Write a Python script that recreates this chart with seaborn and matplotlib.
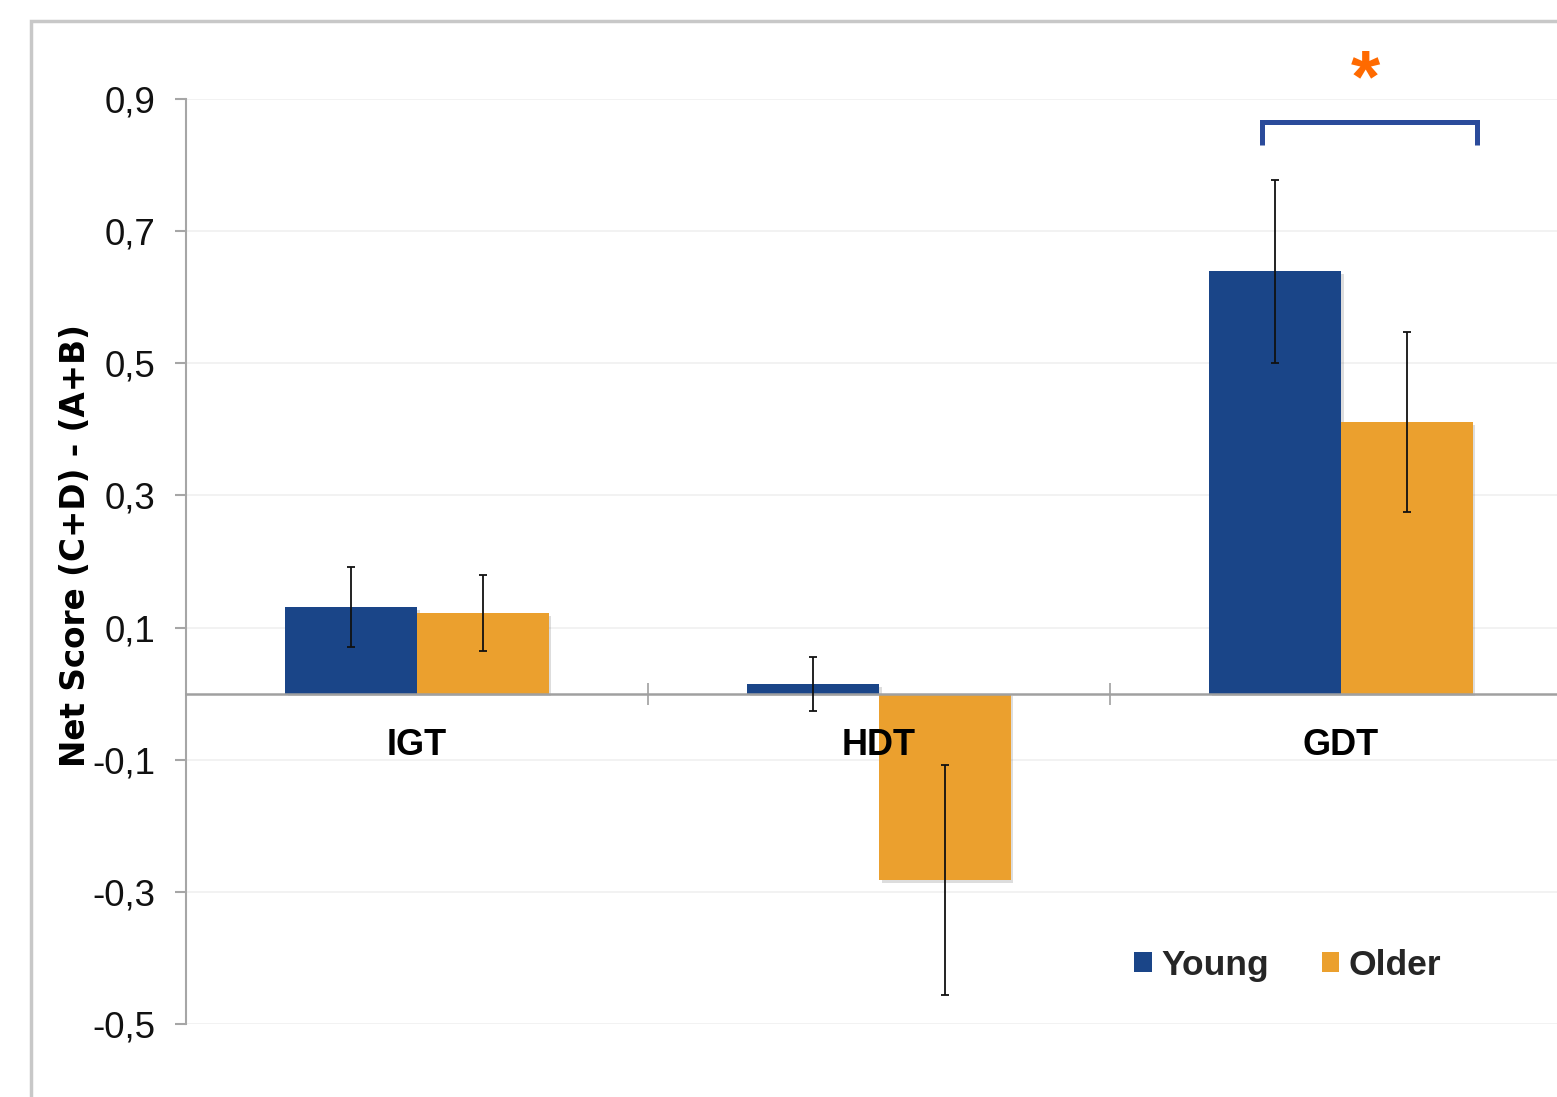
import pandas as pd
import matplotlib
matplotlib.use("Agg")
import matplotlib.pyplot as plt
import matplotlib.patheffects as pe
from matplotlib.patches import Rectangle
import seaborn as sns

# Net score per task and age group, with error bar half-widths
tasks = ["IGT", "HDT", "GDT"]
groups = ["Young", "Older"]
young_mean = [0.131, 0.014, 0.639]
older_mean = [0.122, -0.282, 0.411]
young_err = [0.060, 0.041, 0.138]
older_err = [0.058, 0.174, 0.136]
y_ticks = [-0.5, -0.3, -0.1, 0.1, 0.3, 0.5, 0.7, 0.9]
y_tick_labels = ["-0,5", "-0,3", "-0,1", "0,1", "0,3", "0,5", "0,7", "0,9"]
palette = {"Young": "#1a4588", "Older": "#eba02e"}

df = pd.DataFrame({
    "Task": tasks * 2,
    "Group": ["Young"] * 3 + ["Older"] * 3,
    "Score": young_mean + older_mean,
})

sns.set_theme(style="white")
plt.rcParams["font.family"] = ["Liberation Sans", "DejaVu Sans"]

W, H = 1557, 1097
fig = plt.figure(figsize=(W / 100, H / 100), dpi=100)
ax = fig.add_axes([186 / W, 1 - 1024 / H, 1386 / W, 925 / H])

sns.barplot(data=df, x="Task", y="Score", hue="Group", order=tasks,
            hue_order=groups, palette=palette, width=0.57, errorbar=None,
            saturation=1, linewidth=0, ax=ax, zorder=1)

shadow = [pe.SimplePatchShadow(offset=(2, -2), shadow_rgbFace="#7a7a7a", alpha=0.25),
          pe.Normal()]
for cont, errs in zip(ax.containers, [young_err, older_err]):
    xs = []
    for bar in cont:
        bar.set_path_effects(shadow)
        xs.append(bar.get_x() + bar.get_width() / 2)
    ax.errorbar(xs, cont.datavalues, yerr=errs, fmt="none", ecolor="#111111",
                elinewidth=1.3, capsize=3, capthick=1.3, zorder=3)

ax.set_xlim(-0.5, 2.5)
ax.set_ylim(-0.5, 0.9)

# Faint horizontal guides behind the bars; axis (labels, zero line) on top
ax.grid(False)
ax.set_axisbelow(False)
for yt in y_ticks:
    ax.axhline(yt, color="#f0f0f0", lw=1.2, zorder=0)

for s in ("top", "right"):
    ax.spines[s].set_visible(False)
ax.spines["left"].set_color("#a6a6a6")
ax.spines["left"].set_linewidth(1.5)
ax.spines["bottom"].set_position(("data", 0))
ax.spines["bottom"].set_color("#a0a0a0")
ax.spines["bottom"].set_linewidth(1.8)

ax.set_yticks(y_ticks)
ax.set_yticklabels(y_tick_labels, fontsize=26.5, color="#111111")
ax.tick_params(axis="y", direction="out", length=8, width=1.5,
               color="#a6a6a6", pad=14, left=True)

ax.set_xticks(range(len(tasks)))
ax.set_xticklabels(tasks, fontsize=26, fontweight="bold", color="#000000")
ax.tick_params(axis="x", which="major", length=0, pad=25)
ax.set_xticks([0.5, 1.5], minor=True)
ax.tick_params(axis="x", which="minor", direction="inout", length=16,
               width=1.2, color="#a0a0a0", bottom=True)

ax.set_xlabel("")
ax.set_ylabel("Net Score (C+D) - (A+B)", fontsize=23.5, fontweight="bold",
              color="#000000", family=["DejaVu Sans"])
ax.yaxis.set_label_coords(-0.068, 0.517)

# Legend
leg = ax.get_legend()
handles = leg.legend_handles
labels = [t.get_text() for t in leg.get_texts()]
ax.legend(handles, labels, loc="center", bbox_to_anchor=(0.827, 0.120),
          bbox_transform=fig.transFigure, ncol=2, frameon=False,
          prop={"weight": "bold", "size": 25.5}, handlelength=0.5,
          handleheight=0.5, handletextpad=0.25, columnspacing=1.5)

# Significance bracket between the GDT groups
bracket_x = (1.83, 2.295)
bracket_y = (0.83, 0.865)
ax.plot([bracket_x[0], bracket_x[0], bracket_x[1], bracket_x[1]],
        [bracket_y[0], bracket_y[1], bracket_y[1], bracket_y[0]],
        color="#2b4b9b", lw=3.6, solid_joinstyle="miter",
        solid_capstyle="butt", clip_on=False, zorder=4)
ax.text(2.052, 0.897, "*", fontsize=54, fontweight="bold", color="#ff6a00",
        ha="center", va="baseline", clip_on=False)

# Outer frame of the chart area
fig.patches.append(Rectangle((31 / W, -0.1), 1.2, 1 - 21 / H + 0.1,
                             transform=fig.transFigure, fill=False,
                             edgecolor="#c8c8c8", lw=2.5))

fig.savefig("out.png", dpi=100)
